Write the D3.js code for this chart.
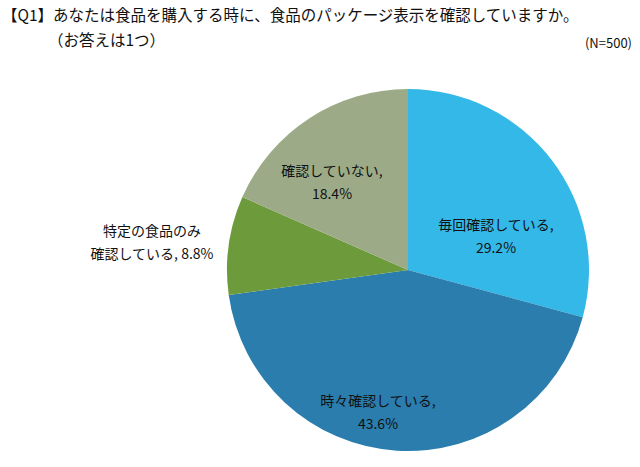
<!DOCTYPE html>
<html><head><meta charset="utf-8">
<script src="https://cdn.jsdelivr.net/npm/d3@7"></script>
<style>body{margin:0;background:#fff}</style>
</head><body>
<svg id="c" width="640" height="467"></svg>
<script>
const categories = ["毎回確認している,", "時々確認している,", "特定の食品のみ", "確認していない,"];
const values = [29.2, 43.6, 8.8, 18.4];
const colors = ["#34B8E8", "#2A7DAD", "#6D9B3C", "#9CAA88"];

const svg = d3.select("#c");
const font = "'Noto Sans CJK JP', sans-serif";
svg.append("text").attr("x", 2).attr("y", 21).attr("font-size", 15.5).attr("font-family", font).attr("fill", "#111")
  .text("【Q1】あなたは食品を購入する時に、食品のパッケージ表示を確認していますか。");
svg.append("text").attr("x", 48).attr("y", 46).attr("font-size", 15.5).attr("font-family", font).attr("fill", "#111")
  .text("（お答えは1つ）");
svg.append("text").attr("x", 632).attr("y", 48).attr("text-anchor", "end").attr("font-size", 13).attr("font-family", font).attr("fill", "#111")
  .text("(N=500)");

const cx = 408, cy = 270, r = 181;
const pie = d3.pie().sort(null).value(d => d)(values);
const arc = d3.arc().innerRadius(0).outerRadius(r);
const g = svg.append("g").attr("transform", `translate(${cx},${cy})`);
g.selectAll("path").data(pie).join("path").attr("d", arc).attr("fill", (d, i) => colors[i]);

const lab = [
  {lines: [categories[0], values[0].toFixed(1) + "%"], x: 496, y: 230},
  {lines: [categories[1], values[1].toFixed(1) + "%"], x: 378, y: 406},
  {lines: [categories[2], "確認している, " + values[2].toFixed(1) + "%"], x: 152, y: 236},
  {lines: [categories[3], values[3].toFixed(1) + "%"], x: 332, y: 176}
];
lab.forEach(l => {
  l.lines.forEach((t, j) => {
    svg.append("text").attr("x", l.x).attr("y", l.y + j * 23).attr("text-anchor", "middle")
      .attr("font-size", 14).attr("font-family", font).attr("fill", "#111").text(t);
  });
});
</script>
</body></html>
